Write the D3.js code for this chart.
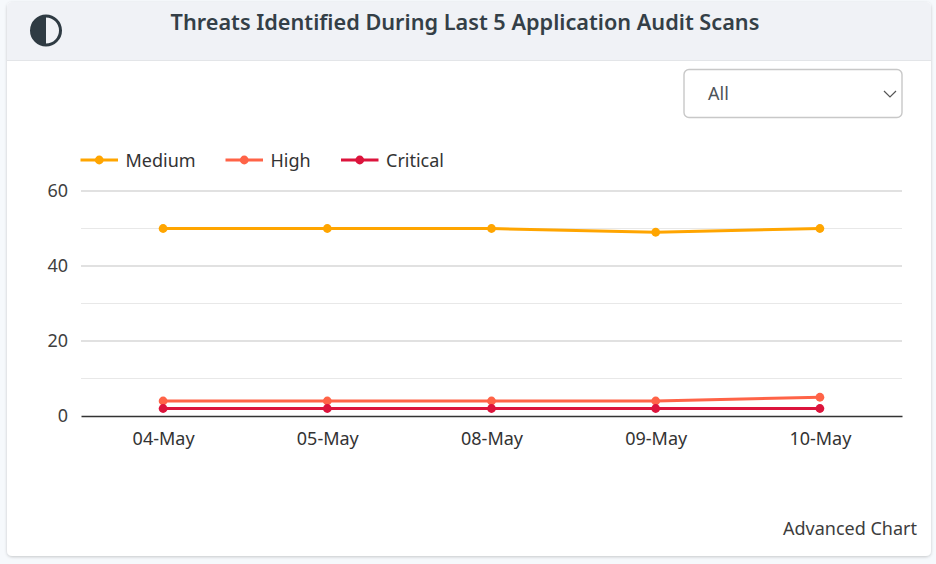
<!DOCTYPE html>
<html>
<head>
<meta charset="utf-8">
<script src="https://cdn.jsdelivr.net/npm/d3@7"></script>
<style>
  html, body { margin: 0; padding: 0; background: #f6f9fc; }
  svg { display: block; }
  text { font-family: "Noto Sans", sans-serif; }
</style>
</head>
<body>
<svg width="936" height="564"></svg>
<script>
// values
const dates = ["04-May", "05-May", "08-May", "09-May", "10-May"];
const seriesNames = ["Medium", "High", "Critical"];
const seriesColors = ["#ffa500", "#ff6347", "#dc143c"];
const medium = [50, 50, 50, 49, 50];
const high = [4, 4, 4, 4, 5];
const critical = [2, 2, 2, 2, 2];
const majorTicks = [0, 20, 40, 60];
const minorTicks = [10, 30, 50];

const svg = d3.select("svg");
const margin = { top: 191, right: 34, bottom: 148, left: 81 };
const width = +svg.attr("width") - margin.left - margin.right;
const height = +svg.attr("height") - margin.top - margin.bottom;

const defs = svg.append("defs");
const shadow = defs.append("filter").attr("id", "cardShadow")
    .attr("x", "-5%").attr("y", "-5%").attr("width", "110%").attr("height", "110%");
shadow.append("feDropShadow")
    .attr("dx", 0).attr("dy", 1).attr("stdDeviation", 1.5)
    .attr("flood-color", "#000").attr("flood-opacity", 0.2);
defs.append("clipPath").attr("id", "cardClip").append("rect")
    .attr("x", 7).attr("y", 2).attr("width", 924).attr("height", 554).attr("rx", 5);

// card and header
svg.append("rect").attr("x", 7).attr("y", 2).attr("width", 924).attr("height", 554)
    .attr("rx", 5).attr("fill", "#fff").attr("filter", "url(#cardShadow)");
svg.append("rect").attr("x", 7).attr("y", 2).attr("width", 924).attr("height", 58)
    .attr("fill", "#f0f2f6").attr("clip-path", "url(#cardClip)");
svg.append("line").attr("x1", 7).attr("x2", 931).attr("y1", 60.5).attr("y2", 60.5)
    .attr("stroke", "#e3e5e8");

// half circle icon
const icon = svg.append("g").attr("transform", "translate(46,30.5)");
icon.append("circle").attr("r", 14.5).attr("fill", "none").attr("stroke", "#2f3b43").attr("stroke-width", 3);
icon.append("path").attr("d", d3.arc()({ innerRadius: 0, outerRadius: 14.5, startAngle: Math.PI, endAngle: 2 * Math.PI }))
    .attr("fill", "#2f3b43");

svg.append("text").attr("x", 465).attr("y", 30)
    .attr("text-anchor", "middle").attr("font-size", 21.7).attr("font-weight", 600)
    .attr("fill", "#343f47")
    .text("Threats Identified During Last 5 Application Audit Scans");

// dropdown
svg.append("rect").attr("x", 684).attr("y", 69.5).attr("width", 218).attr("height", 48)
    .attr("rx", 5).attr("fill", "#fff").attr("stroke", "#c8c8c8").attr("stroke-width", 1.4);
svg.append("text").attr("x", 708).attr("y", 100)
    .attr("font-size", 18).attr("fill", "#4d5358").text("All");
svg.append("path").attr("d", d3.line()([[884, 91], [890, 97], [896, 91]]))
    .attr("fill", "none").attr("stroke", "#555").attr("stroke-width", 1.2);

const g = svg.append("g").attr("transform", `translate(${margin.left},${margin.top})`);

const x = d3.scalePoint().domain(dates).range([0, width]).padding(0.5);
const y = d3.scaleLinear().domain([0, 60]).range([height, 0]);

// grid
g.selectAll("line.minor").data(minorTicks).enter().append("line")
    .attr("class", "minor")
    .attr("x1", 0).attr("x2", width)
    .attr("y1", d => y(d)).attr("y2", d => y(d))
    .attr("stroke", "#e8e8e8").attr("stroke-width", 1.2);
g.selectAll("line.major").data(majorTicks.filter(d => d > 0)).enter().append("line")
    .attr("class", "major")
    .attr("x1", 0).attr("x2", width)
    .attr("y1", d => y(d)).attr("y2", d => y(d))
    .attr("stroke", "#c4c4c4").attr("stroke-width", 1.2);

// axes
const yAxis = g.append("g")
    .call(d3.axisLeft(y).tickValues(majorTicks).tickSize(0).tickPadding(13));
yAxis.select(".domain").remove();
yAxis.selectAll("text").attr("font-size", 18).attr("fill", "#3f3f3f")
    .style("font-family", '"Noto Sans", sans-serif');

const xAxis = g.append("g").attr("transform", `translate(0,${height})`)
    .call(d3.axisBottom(x).tickSize(0).tickPadding(16));
xAxis.select(".domain").attr("stroke", "#333").attr("stroke-width", 1.5);
xAxis.selectAll("text").attr("font-size", 18).attr("fill", "#333")
    .style("font-family", '"Noto Sans", sans-serif');

// lines, drawn bottom series last
const line = d3.line().x((d, i) => x(dates[i])).y(d => y(d));
[medium, high, critical].forEach((values, k) => {
    g.append("path").datum(values)
        .attr("fill", "none")
        .attr("stroke", seriesColors[k])
        .attr("stroke-width", 3)
        .attr("d", line);
    g.selectAll(`circle.s${k}`).data(values).enter().append("circle")
        .attr("class", `s${k}`)
        .attr("cx", (d, i) => x(dates[i]))
        .attr("cy", d => y(d))
        .attr("r", 4.4)
        .attr("fill", seriesColors[k]);
});

// legend
const legendX = [80.5, 225.5, 341];
const legend = svg.selectAll("g.legend").data(seriesNames).enter().append("g")
    .attr("class", "legend")
    .attr("transform", (d, i) => `translate(${legendX[i]},160)`);
legend.append("line").attr("x1", 0).attr("x2", 37.5)
    .attr("stroke", (d, i) => seriesColors[i]).attr("stroke-width", 3);
legend.append("circle").attr("cx", 18.75).attr("r", 4.4)
    .attr("fill", (d, i) => seriesColors[i]);
legend.append("text").attr("x", 45).attr("y", 6.5)
    .attr("font-size", 18).attr("fill", "#333").text(d => d);

svg.append("text").attr("x", 917).attr("y", 535)
    .attr("text-anchor", "end").attr("font-size", 18).attr("fill", "#3d3d3d")
    .text("Advanced Chart");
</script>
</body>
</html>
